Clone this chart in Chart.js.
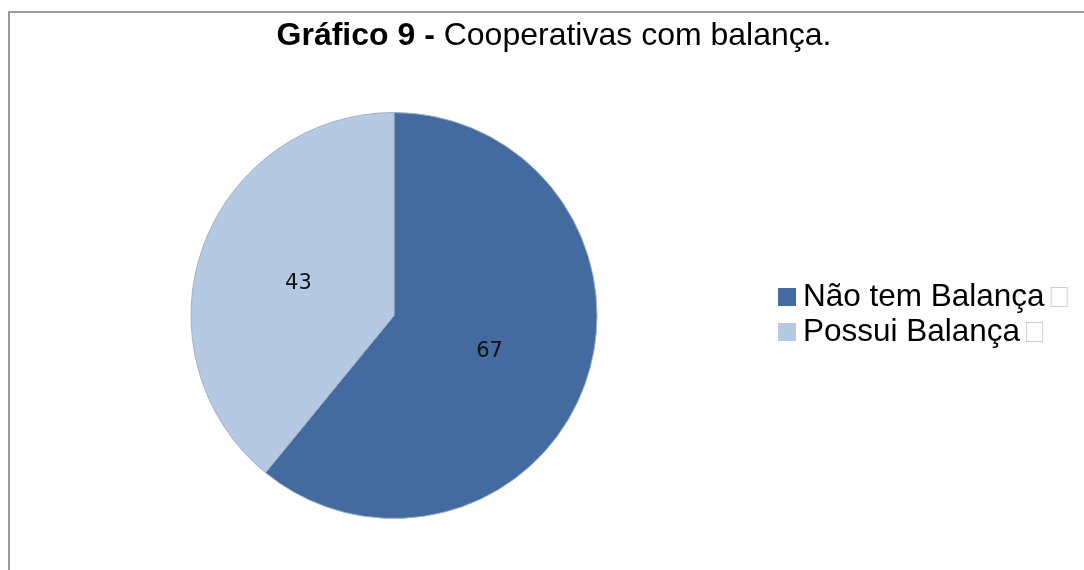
<!DOCTYPE html>
<html>
<head>
<meta charset="utf-8">
<script src="https://cdn.jsdelivr.net/npm/chart.js@4.4.0/dist/chart.umd.min.js"></script>
<style>
  body { margin: 0; background: #fff; }
  #wrap { width: 1084px; height: 570px; position: relative; }
</style>
</head>
<body>
<div id="wrap"><canvas id="chart"></canvas></div>
<script>
const categories = ['Não tem Balança', 'Possui Balança'];
const values = [67, 43];
const colors = ['#436b9f', '#b5c9e2'];

// frame, title, value labels and legend drawn on the canvas
const decor = {
    id: 'decor',
    afterDraw(chart) {
        const ctx = chart.ctx;
        ctx.save();

        // grey frame (top + left)
        ctx.strokeStyle = '#9a9a9a';
        ctx.lineWidth = 2;
        ctx.beginPath();
        ctx.moveTo(1084, 12);
        ctx.lineTo(9, 12);
        ctx.lineTo(9, 570);
        ctx.stroke();

        // title, first part bold
        ctx.fillStyle = '#000';
        ctx.textBaseline = 'alphabetic';
        const boldPart = 'Gráfico 9 - ';
        const restPart = 'Cooperativas com balança.';
        const fBold = 'bold 32px "Liberation Sans", Arial';
        const fReg = '32px "Liberation Sans", Arial';
        ctx.font = fBold;
        const w1 = ctx.measureText(boldPart).width;
        ctx.font = fReg;
        const w2 = ctx.measureText(restPart).width;
        const x0 = 554 - (w1 + w2) / 2;
        ctx.font = fBold;
        ctx.fillText(boldPart, x0, 45);
        ctx.font = fReg;
        ctx.fillText(restPart, x0 + w1, 45);

        // values in the middle of each slice
        const meta = chart.getDatasetMeta(0);
        ctx.font = '21px "DejaVu Sans", sans-serif';
        ctx.textAlign = 'center';
        ctx.textBaseline = 'middle';
        meta.data.forEach((arc, i) => {
            const p = arc.tooltipPosition();
            ctx.fillStyle = '#111';
            ctx.fillText(String(values[i]), p.x, p.y + 2);
        });

        // legend
        ctx.textAlign = 'left';
        ctx.font = '31.5px "Liberation Sans", Arial';
        categories.forEach((label, i) => {
            const y = 297 + i * 35;
            ctx.fillStyle = colors[i];
            ctx.fillRect(778, y - 9, 18, 18);
            ctx.fillStyle = '#000';
            ctx.fillText(label, 803, y);
            const tw = ctx.measureText(label).width;
            ctx.strokeStyle = '#cfcfcf';
            ctx.lineWidth = 1;
            ctx.strokeRect(803 + tw + 6.5, y - 9.5, 16, 19);
        });
        ctx.restore();
    }
};

new Chart(document.getElementById('chart'), {
    type: 'pie',
    data: {
        labels: categories,
        datasets: [{
            data: values,
            backgroundColor: colors,
            borderColor: '#9fb0c8',
            borderWidth: 1
        }]
    },
    options: {
        responsive: true,
        maintainAspectRatio: false,
        animation: false,
        layout: { padding: { left: 180, right: 476, top: 112, bottom: 51 } },
        plugins: {
            legend: { display: false },
            tooltip: { enabled: false }
        }
    },
    plugins: [decor]
});
</script>
</body>
</html>
